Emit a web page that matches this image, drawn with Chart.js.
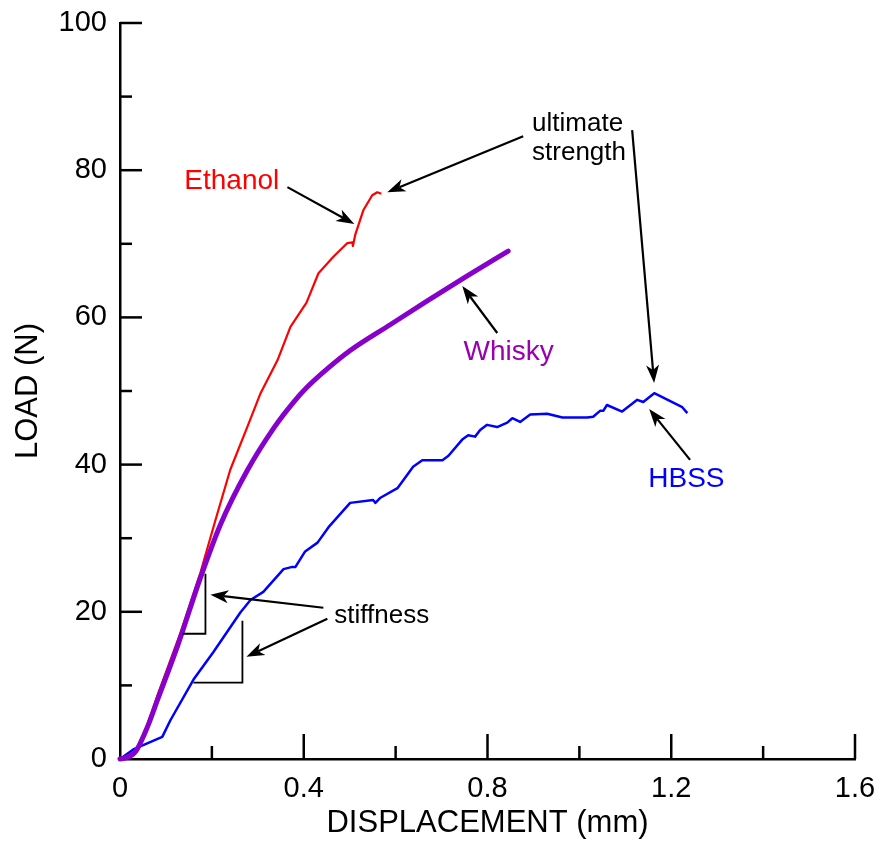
<!DOCTYPE html>
<html><head><meta charset="utf-8">
<script src="https://cdn.jsdelivr.net/npm/chart.js@4.4.1/dist/chart.umd.min.js"></script>
<style>html,body{margin:0;padding:0;background:#fff}canvas{display:block}</style>
</head><body>
<canvas id="c" width="880" height="842"></canvas>
<script>
// ---- data (displacement mm, load N) ----
const ethanolX = [0, 0.034, 0.060, 0.082, 0.132, 0.175, 0.208, 0.240, 0.277, 0.306, 0.343, 0.371, 0.406, 0.432, 0.464, 0.495, 0.506, 0.507, 0.512, 0.530, 0.549, 0.560, 0.569];
const ethanolY = [0, 1.0, 4.7, 8.7, 17.2, 25.3, 32.5, 39.3, 45.1, 49.7, 54.2, 58.7, 62.0, 66.0, 68.2, 70.1, 70.2, 69.7, 71.2, 74.6, 76.6, 77.0, 76.8];

const whiskyX = [0, 0.020, 0.034, 0.060, 0.082, 0.125, 0.175, 0.219, 0.277, 0.335, 0.378, 0.407, 0.451, 0.501, 0.588, 0.668, 0.755, 0.845];
const whiskyY = [0, 0.3, 1.0, 4.4, 8.1, 15.3, 24.6, 31.9, 39.2, 45.0, 48.5, 50.5, 53.0, 55.5, 59.0, 62.2, 65.6, 69.0];

const hbssX = [0, 0.029, 0.092, 0.110, 0.160, 0.203, 0.262, 0.284, 0.312, 0.356, 0.375, 0.382, 0.403, 0.430, 0.454, 0.501, 0.551, 0.556, 0.567, 0.604, 0.625, 0.638, 0.658, 0.702, 0.715, 0.745, 0.758, 0.773, 0.784, 0.799, 0.821, 0.843, 0.854, 0.871, 0.893, 0.930, 0.963, 1.017, 1.030, 1.045, 1.052, 1.060, 1.093, 1.126, 1.139, 1.163, 1.224, 1.235];
const hbssY = [0, 1.3, 3.0, 5.3, 10.8, 14.5, 19.9, 21.6, 22.7, 25.8, 26.1, 26.1, 28.2, 29.4, 31.5, 34.8, 35.2, 34.8, 35.5, 36.8, 38.6, 39.7, 40.6, 40.6, 41.2, 43.4, 44.0, 43.8, 44.7, 45.4, 45.1, 45.7, 46.3, 45.8, 46.8, 46.9, 46.4, 46.4, 46.5, 47.3, 47.3, 48.1, 47.2, 48.8, 48.5, 49.7, 47.8, 47.0];

const seriesNames = ['Ethanol', 'Whisky', 'HBSS'];
const xMajorTicks = [0, 0.4, 0.8, 1.2, 1.6];
const xMinorTicks = [0.2, 0.6, 1.0, 1.4];
const yMajorTicks = [0, 20, 40, 60, 80, 100];
const yMinorTicks = [10, 30, 50, 70, 90];
const xTitle = 'DISPLACEMENT (mm)';
const yTitle = 'LOAD (N)';

// ---- annotations (data coordinates) ----
const FONT = '"Liberation Sans", Arial, Helvetica, sans-serif';
const annotationTexts = [
  {text: 'Ethanol', x: 0.140, y: 77.43, color: '#ff0000', size: 28},
  {text: 'ultimate', x: 0.897, y: 85.30, color: '#000000', size: 26},
  {text: 'strength', x: 0.897, y: 81.37, color: '#000000', size: 26},
  {text: 'Whisky', x: 0.748, y: 54.22, color: '#9a00b0', size: 28},
  {text: 'HBSS', x: 1.150, y: 36.98, color: '#0000ff', size: 28},
  {text: 'stiffness', x: 0.4666, y: 18.53, color: '#000000', size: 26}
];
const annotationArrows = [
  {from: [0.3644, 77.70], to: [0.5101, 72.68]},
  {from: [0.8777, 84.62], to: [0.5819, 77.02]},
  {from: [1.1149, 85.44], to: [1.1627, 51.09]},
  {from: [0.8212, 57.88], to: [0.7451, 64.26]},
  {from: [1.2410, 40.64], to: [1.1519, 47.56]},
  {from: [0.4427, 20.55], to: [0.1969, 22.32]},
  {from: [0.4514, 19.06], to: [0.2752, 13.90]}
];
const annotationBrackets = [
  [[0.1360, 17.02], [0.1860, 17.02], [0.1860, 25.16]],
  [[0.1599, 10.37], [0.2665, 10.37], [0.2665, 18.79]]
];

function pts(xs, ys) { return xs.map((x, i) => ({x: x, y: ys[i]})); }

const overlayPlugin = {
  id: 'overlay',
  afterDraw(chart) {
    const ctx = chart.ctx;
    const xs = chart.scales.x, ys = chart.scales.y;
    const px = v => xs.getPixelForValue(v), py = v => ys.getPixelForValue(v);
    ctx.save();
    ctx.strokeStyle = '#000';
    ctx.lineWidth = 2.5;
    ctx.lineCap = 'butt';
    // inward ticks
    const y0 = py(0), x0 = px(0);
    xMajorTicks.forEach(v => { if (v === 0) return; const p = px(v); ctx.beginPath(); ctx.moveTo(p, y0); ctx.lineTo(p, y0 - 25); ctx.stroke(); });
    xMinorTicks.forEach(v => { const p = px(v); ctx.beginPath(); ctx.moveTo(p, y0); ctx.lineTo(p, y0 - 13); ctx.stroke(); });
    yMajorTicks.forEach(v => { if (v === 0) return; const p = py(v); ctx.beginPath(); ctx.moveTo(x0, p); ctx.lineTo(x0 + 22, p); ctx.stroke(); });
    yMinorTicks.forEach(v => { const p = py(v); ctx.beginPath(); ctx.moveTo(x0, p); ctx.lineTo(x0 + 12, p); ctx.stroke(); });
    // brackets
    ctx.lineWidth = 1.8;
    annotationBrackets.forEach(b => {
      ctx.beginPath();
      b.forEach((q, i) => { const X = px(q[0]), Y = py(q[1]); if (i) ctx.lineTo(X, Y); else ctx.moveTo(X, Y); });
      ctx.stroke();
    });
    // arrows
    annotationArrows.forEach(ar => {
      const x1 = px(ar.from[0]), y1 = py(ar.from[1]), x2 = px(ar.to[0]), y2 = py(ar.to[1]);
      const ang = Math.atan2(y2 - y1, x2 - x1);
      const L = 18, W = 6.5, N = 13;
      const bx = x2 - N * Math.cos(ang), by = y2 - N * Math.sin(ang);
      ctx.lineWidth = 2.2;
      ctx.beginPath(); ctx.moveTo(x1, y1); ctx.lineTo(bx, by); ctx.stroke();
      const cx = x2 - L * Math.cos(ang), cy = y2 - L * Math.sin(ang);
      const nx = -Math.sin(ang), ny = Math.cos(ang);
      ctx.fillStyle = '#000';
      ctx.beginPath();
      ctx.moveTo(x2, y2);
      ctx.lineTo(cx + nx * W, cy + ny * W);
      ctx.lineTo(bx, by);
      ctx.lineTo(cx - nx * W, cy - ny * W);
      ctx.closePath();
      ctx.fill();
    });
    // texts
    ctx.textAlign = 'left';
    ctx.textBaseline = 'alphabetic';
    annotationTexts.forEach(t => {
      ctx.font = t.size + 'px ' + FONT;
      ctx.fillStyle = t.color;
      ctx.fillText(t.text, px(t.x), py(t.y));
    });
    ctx.restore();
  }
};

const tickFont = {family: FONT, size: 29};
const titleFont = {family: FONT, size: 31};
function zeroPad(s) { s.paddingTop = 0; s.paddingBottom = 0; s.paddingLeft = 0; s.paddingRight = 0; }

new Chart(document.getElementById('c'), {
  type: 'scatter',
  data: {
    datasets: [
      {label: seriesNames[0], data: pts(ethanolX, ethanolY), showLine: true, borderColor: '#ff0000', borderWidth: 2.2, pointRadius: 0, tension: 0, order: 1, clip: false, borderJoinStyle: 'round'},
      {label: seriesNames[1], data: pts(whiskyX, whiskyY), showLine: true, borderColor: '#8800cc', borderWidth: 5, pointRadius: 0, cubicInterpolationMode: 'monotone', order: 0, clip: false, borderCapStyle: 'round', borderJoinStyle: 'round'},
      {label: seriesNames[2], data: pts(hbssX, hbssY), showLine: true, borderColor: '#0000ff', borderWidth: 2.5, pointRadius: 0, tension: 0, order: 2, clip: false, borderJoinStyle: 'round'}
    ]
  },
  options: {
    responsive: false,
    animation: false,
    events: [],
    layout: {padding: {left: 0, top: 23, right: 25, bottom: 0}},
    plugins: {legend: {display: false}, tooltip: {enabled: false}},
    scales: {
      x: {
        type: 'linear', min: 0, max: 1.6,
        afterFit: s => { s.height = 83; zeroPad(s); },
        afterBuildTicks: s => { s.ticks = xMajorTicks.map(v => ({value: v})); },
        grid: {display: false, drawTicks: false},
        border: {display: true, color: '#000', width: 2.5},
        ticks: {font: tickFont, color: '#000', padding: 13, maxRotation: 0,
          callback: v => String(Number(v.toFixed(1)))},
        title: {display: true, text: xTitle, font: titleFont, color: '#000', padding: {top: 0, bottom: 0}}
      },
      y: {
        type: 'linear', min: 0, max: 100,
        afterFit: s => { s.width = 120; zeroPad(s); },
        afterBuildTicks: s => { s.ticks = yMajorTicks.map(v => ({value: v})); },
        grid: {display: false, drawTicks: false},
        border: {display: true, color: '#000', width: 2.5},
        ticks: {font: tickFont, color: '#000', padding: 13},
        title: {display: true, text: yTitle, font: titleFont, color: '#000', padding: {top: 10, bottom: 0}}
      }
    }
  },
  plugins: [overlayPlugin]
});
</script>
</body></html>
